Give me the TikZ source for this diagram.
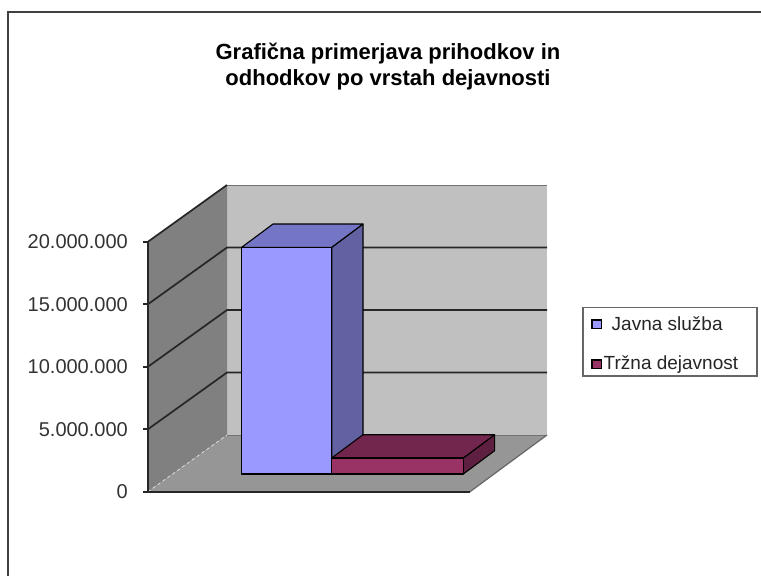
\documentclass[tikz,border=0pt]{standalone}
\usepackage{fontspec}
\setmainfont{Liberation Sans}
\usetikzlibrary{positioning}
\definecolor{wallback}{HTML}{C0C0C0}
\definecolor{wallside}{HTML}{808080}
\definecolor{floorgray}{HTML}{969696}
\definecolor{javnafront}{HTML}{9999FF}
\definecolor{javnatop}{HTML}{7575C5}
\definecolor{javnaside}{HTML}{6262A3}
\definecolor{trznafront}{HTML}{993366}
\definecolor{trznatop}{HTML}{73264D}
\definecolor{trznaside}{HTML}{5E1F40}
\begin{document}
\begin{tikzpicture}[x=1pt,y=-1pt,
  gridline/.style={line width=1.7pt,color=black!85},
  axislabel/.style={anchor=east,inner sep=0pt,font=\fontsize{20}{24}\selectfont,text=black!80},
  legendtext/.style={anchor=base west,inner sep=0pt,font=\fontsize{19}{23}\selectfont,text=black!85},
  titletext/.style={anchor=base,inner sep=0pt,font=\fontsize{22}{26}\selectfont\bfseries},
  facebox/.style={draw=black,line width=1.1pt,line join=round}]
\useasboundingbox (0.000000,0.000000) rectangle (761.000000,576.000000);
\fill[white] (0.000000,0.000000) rectangle (761.000000,576.000000);
% Drawing frame
\draw[color=black!75,line width=2pt] (8.000000,576.000000) -- (8.000000,12.000000) -- (761.000000,12.000000);
% Drawing title
\node[titletext] (title1) at (388.000000,59.000000) {Grafična primerjava prihodkov in};
\node[titletext] (title2) at (388.000000,85.000000) {odhodkov po vrstah dejavnosti};
% Drawing walls and floor
\fill[wallback] (227.000000,185.000000) rectangle (547.000000,435.000000);
\fill[wallside] (148.000000,241.700000) -- (227.000000,185.000000) -- (227.000000,435.000000) -- (148.000000,491.700000) -- cycle;
\fill[floorgray] (148.000000,491.700000) -- (227.000000,435.000000) -- (547.000000,435.000000) -- (470.000000,491.700000) -- cycle;
\draw[color=black!55,line width=0.8pt] (227.000000,435.000000) -- (547.000000,435.000000);
\draw[color=black!55,line width=0.8pt] (227.000000,185.000000) -- (547.000000,185.000000);
\draw[color=black!60,line width=1.2pt] (547.000000,435.000000) -- (470.000000,491.700000);
\draw[color=white!75!gray,dashed,line width=0.8pt] (148.000000,491.700000) -- (227.000000,435.000000);
% Drawing gridlines
% Line 1: 20.000.000
\draw[gridline] (148.000000,241.700000) -- (227.000000,185.000000);
% Line 2: 15.000.000
\draw[gridline] (148.000000,304.200000) -- (227.000000,247.500000) -- (547.000000,247.500000);
% Line 3: 10.000.000
\draw[gridline] (148.000000,366.700000) -- (227.000000,310.000000) -- (547.000000,310.000000);
% Line 4: 5.000.000
\draw[gridline] (148.000000,429.200000) -- (227.000000,372.500000) -- (547.000000,372.500000);
% Drawing axis
\draw[gridline] (148.000000,241.700000) -- (148.000000,491.700000) -- (470.000000,491.700000);
\draw[gridline] (143.000000,241.700000) -- (148.000000,241.700000);
\draw[gridline] (143.000000,304.200000) -- (148.000000,304.200000);
\draw[gridline] (143.000000,366.700000) -- (148.000000,366.700000);
\draw[gridline] (143.000000,429.200000) -- (148.000000,429.200000);
\draw[gridline] (143.000000,491.700000) -- (148.000000,491.700000);
\node[axislabel] (lab20) at (128.000000,241.700000) {20.000.000};
\node[axislabel] (lab15) at (128.000000,304.200000) {15.000.000};
\node[axislabel] (lab10) at (128.000000,366.700000) {10.000.000};
\node[axislabel] (lab5) at (128.000000,429.200000) {5.000.000};
\node[axislabel] (lab0) at (128.000000,491.700000) {0};
% Done with axis; drawing bars
% Bar 1: Javna služba
\filldraw[facebox,fill=javnaside] (331.700000,247.300000) -- (363.000000,224.000000) -- (363.000000,450.700000) -- (331.700000,474.000000) -- cycle;
\filldraw[facebox,fill=javnatop] (241.700000,247.300000) -- (273.000000,224.000000) -- (363.000000,224.000000) -- (331.700000,247.300000) -- cycle;
\filldraw[facebox,fill=javnafront] (241.700000,247.300000) rectangle (331.700000,474.000000);
% Bar 2: Tržna dejavnost
\filldraw[facebox,fill=trznaside] (463.300000,458.000000) -- (494.600000,434.700000) -- (494.600000,450.700000) -- (463.300000,474.000000) -- cycle;
\filldraw[facebox,fill=trznatop] (331.700000,458.000000) -- (363.000000,434.700000) -- (494.600000,434.700000) -- (463.300000,458.000000) -- cycle;
\filldraw[facebox,fill=trznafront] (331.700000,458.000000) rectangle (463.300000,474.000000);
% Done with bars; drawing legend
\draw[color=black!60,line width=1.2pt] (583.000000,307.500000) rectangle (757.000000,376.000000);
\filldraw[draw=black,line width=1.2pt,fill=javnafront] (592.000000,320.000000) rectangle (601.500000,328.500000);
\filldraw[draw=black,line width=1.2pt,fill=trznafront] (592.000000,360.000000) rectangle (601.500000,368.500000);
\node[legendtext] (legjavna) at (611.500000,330.500000) {Javna služba};
\node[legendtext] (legtrzna) at (603.500000,369.500000) {Tržna dejavnost};
% Done with legend
\end{tikzpicture}
\end{document}
